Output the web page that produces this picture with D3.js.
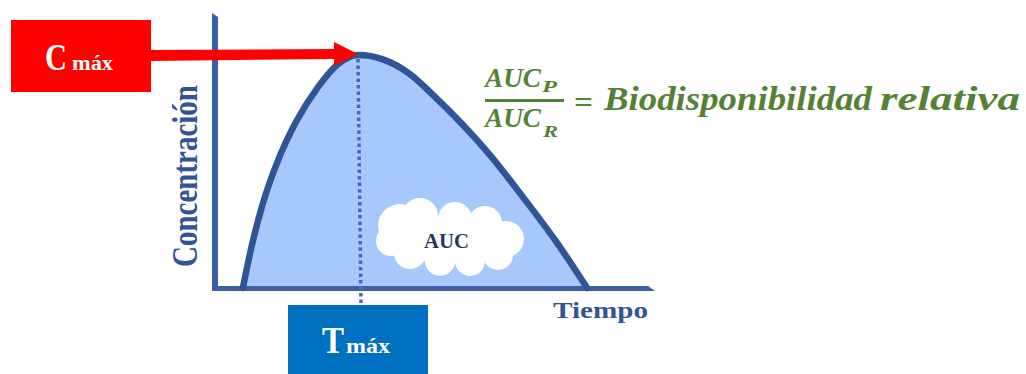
<!DOCTYPE html>
<html>
<head>
<meta charset="utf-8">
<script src="https://cdn.jsdelivr.net/npm/d3@7"></script>
<style>
  html, body { margin: 0; padding: 0; background: #ffffff; }
  svg { display: block; }
</style>
</head>
<body>
<svg id="chart" width="1026" height="374"></svg>
<script>
// Plasma concentration–time profile (schematic)
const times = [0.76, 1.0, 1.3, 1.7, 2.2, 2.8, 3.35, 3.9, 4.6, 5.3, 6.0, 6.7, 7.5, 8.4, 9.3, 10.15];
const conc  = [0, 18, 36, 54, 71, 86, 96, 100, 98, 92, 82, 71, 57, 39, 20, 0];

const axisLabels = { x: "Tiempo", y: "Concentración" };
const cmaxLabel = ["C", "máx"];
const tmaxLabel = ["T", "máx"];
const cloudLabel = "AUC";
const ratioTerms = { num: ["AUC", "P"], den: ["AUC", "R"], result: ["Biodisponibilidad", "relativa"] };

const svg = d3.select("#chart");
const serif = "Liberation Serif";

const x = d3.scaleLinear().domain([0, 12]).range([215, 655]);
const y = d3.scaleLinear().domain([0, 100]).range([288, 55]);

const pts = times.map((t, i) => ({ t, c: conc[i] }));
const peak = pts.reduce((a, b) => (b.c > a.c ? b : a));

// text helper: baseline position, font size, fitted width
function label(g, str, px, py, size, width, opts = {}) {
  const t = g.append("text")
    .attr("x", px).attr("y", py)
    .style("font-family", opts.family || serif)
    .style("font-weight", opts.weight || "bold")
    .style("font-style", opts.style || "normal")
    .style("font-size", size + "px")
    .attr("fill", opts.fill || "#000")
    .text(str);
  if (width) t.attr("textLength", width).attr("lengthAdjust", "spacingAndGlyphs");
  return t;
}

const curve = d3.curveMonotoneX;

// area under the curve
const area = d3.area()
  .x(d => x(d.t)).y0(y(0)).y1(d => y(d.c))
  .curve(curve);
svg.append("path").datum(pts)
  .attr("d", area)
  .attr("fill", "#a6c8fc");

// axes drawn as solid bars
const axisColor = "#3c60a8";
svg.append("path")
  .attr("d", `M212,${y(0) + 3} L212,13 L218,17 L218,${y(0) + 3} Z`)
  .attr("fill", axisColor);
svg.append("path")
  .attr("d", `M212,${y(0) - 2} L648,${y(0) - 2} L655,${y(0) + 3} L212,${y(0) + 3} Z`)
  .attr("fill", axisColor);

// cloud inside the area
const cloud = svg.append("g").attr("fill", "#ffffff");
[[400, 226, 22], [420, 216, 18], [455, 219, 17], [485, 223, 17], [506, 239, 18],
 [498, 255, 15], [470, 261, 15], [440, 261, 15], [410, 253, 16], [391, 241, 15]]
  .forEach(([cx, cy, r]) => cloud.append("circle").attr("cx", cx).attr("cy", cy).attr("r", r));
cloud.append("ellipse").attr("cx", 452).attr("cy", 240).attr("rx", 56).attr("ry", 24);
label(svg, cloudLabel, 424, 248, 20, 45, { fill: "#1f3864" });

// concentration curve
const line = d3.line()
  .x(d => x(d.t)).y(d => y(d.c))
  .curve(curve);
svg.append("path").datum(pts)
  .attr("d", line)
  .attr("fill", "none")
  .attr("stroke", "#2f5597")
  .attr("stroke-width", 6.5)
  .attr("stroke-linecap", "round");

// dotted marker from the peak to the Tmax box
svg.append("line")
  .attr("x1", x(peak.t)).attr("y1", y(peak.c) + 4)
  .attr("x2", x(peak.t) + 3).attr("y2", 305)
  .attr("stroke", "#3f6cc0")
  .attr("stroke-width", 3.5)
  .attr("stroke-dasharray", "3.5,3");

// Cmax box and arrow
const ay = y(peak.c) + 1;
svg.append("rect").attr("x", 11).attr("y", 20).attr("width", 140).attr("height", 72).attr("fill", "#ff0000");
svg.append("path")
  .attr("d", `M150,${ay - 6} L334,${ay - 7} L334,${ay - 14} L${x(peak.t)},${ay - 2} L334,${ay + 10} L334,${ay + 3} L150,${ay + 5} Z`)
  .attr("fill", "#ff0000");
label(svg, cmaxLabel[0], 45, 70, 38, 22, { fill: "#ffffff" });
label(svg, cmaxLabel[1], 72, 70, 20, 41, { fill: "#ffffff" });

// Tmax box
svg.append("rect").attr("x", 288).attr("y", 305).attr("width", 140).attr("height", 75).attr("fill", "#0070c0");
label(svg, tmaxLabel[0], 322, 353, 38, 22, { fill: "#ffffff" });
label(svg, tmaxLabel[1], 346, 353, 20, 44, { fill: "#ffffff" });

// axis titles
label(svg, axisLabels.x, 553, 318, 24, 95, { fill: "#2f5597" });
svg.append("text")
  .attr("transform", "translate(197,176) rotate(-90)")
  .attr("text-anchor", "middle")
  .style("font-family", serif)
  .style("font-weight", "bold")
  .style("font-size", "35px")
  .attr("textLength", 182)
  .attr("lengthAdjust", "spacingAndGlyphs")
  .attr("fill", "#2f5597")
  .text(axisLabels.y);

// relative bioavailability formula
const green = "#548235";
const f = svg.append("g");
const it = { fill: green, style: "italic" };
label(f, ratioTerms.num[0], 485, 87, 27, 56, it);
label(f, ratioTerms.num[1], 542, 92, 16, 15, it);
f.append("rect").attr("x", 485).attr("y", 99).attr("width", 79).attr("height", 3).attr("fill", green);
label(f, ratioTerms.den[0], 485, 127, 27, 56, it);
label(f, ratioTerms.den[1], 543, 137, 16, 15, it);
label(f, "=", 574, 112, 30, 19, { fill: green });
label(f, ratioTerms.result[0], 604, 110, 33, 268, it);
label(f, ratioTerms.result[1], 880, 110, 33, 140, it);
</script>
</body>
</html>
